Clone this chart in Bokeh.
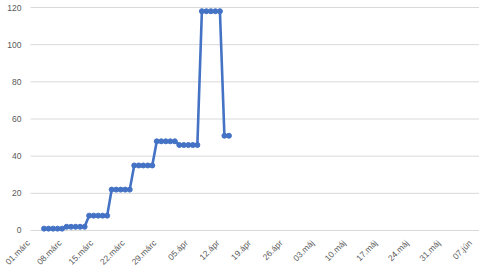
import math
import pandas as pd
from bokeh.plotting import figure
from bokeh.models import Range1d, ColumnDataSource
from bokeh.core.properties import value
from bokeh.embed import file_html
from bokeh.resources import INLINE

axis_start = "2020-03-01"
axis_end_day = 99.45

dates = [
    "2020-03-04", "2020-03-05", "2020-03-06", "2020-03-07", "2020-03-08",
    "2020-03-09", "2020-03-10", "2020-03-11", "2020-03-12", "2020-03-13",
    "2020-03-14", "2020-03-15", "2020-03-16", "2020-03-17", "2020-03-18",
    "2020-03-19", "2020-03-20", "2020-03-21", "2020-03-22", "2020-03-23",
    "2020-03-24", "2020-03-25", "2020-03-26", "2020-03-27", "2020-03-28",
    "2020-03-29", "2020-03-30", "2020-03-31", "2020-04-01", "2020-04-02",
    "2020-04-03", "2020-04-04", "2020-04-05", "2020-04-06", "2020-04-07",
    "2020-04-08", "2020-04-09", "2020-04-10", "2020-04-11", "2020-04-12",
    "2020-04-13", "2020-04-14",
]

values = [
    1, 1, 1, 1, 1,
    2, 2, 2, 2, 2,
    8, 8, 8, 8, 8,
    22, 22, 22, 22, 22,
    35, 35, 35, 35, 35,
    48, 48, 48, 48, 48,
    46, 46, 46, 46, 46,
    118, 118, 118, 118, 118,
    51, 51,
]

tick_dates = [
    "2020-03-01", "2020-03-08", "2020-03-15", "2020-03-22", "2020-03-29",
    "2020-04-05", "2020-04-12", "2020-04-19", "2020-04-26", "2020-05-03",
    "2020-05-10", "2020-05-17", "2020-05-24", "2020-05-31", "2020-06-07",
]
tick_labels = [
    "01.márc", "08.márc", "15.márc", "22.márc", "29.márc",
    "05.ápr", "12.ápr", "19.ápr", "26.ápr", "03.máj",
    "10.máj", "17.máj", "24.máj", "31.máj", "07.jún",
]
y_ticks = [0, 20, 40, 60, 80, 100, 120]
y_tick_labels = ["0", "20", "40", "60", "80", "100", "120"]

start = pd.Timestamp(axis_start)
x = [int((pd.Timestamp(d) - start).days) for d in dates]
tx = [int((pd.Timestamp(d) - start).days) for d in tick_dates]

src = ColumnDataSource(data=dict(x=x, y=values))
xtick_src = ColumnDataSource(data=dict(x=tx, y=[0] * len(tx), label=tick_labels))
ytick_src = ColumnDataSource(data=dict(x=[0] * len(y_ticks), y=y_ticks, label=y_tick_labels))
grid_src = ColumnDataSource(data=dict(x0=[0] * len(y_ticks), x1=[axis_end_day] * len(y_ticks),
                                      y=y_ticks))

label_color = "#595959"
font = "Liberation Sans"

# the frame covers the whole canvas; the margins around the data area hold the tick labels
p = figure(width=480, height=269, output_backend="svg", toolbar_location=None,
           x_range=Range1d(-6.652, 99.78), y_range=Range1d(-20.99, 123.77),
           x_axis_location=None, y_axis_location=None,
           min_border_left=0, min_border_right=0, min_border_top=0, min_border_bottom=0)
p.outline_line_color = None
p.background_fill_color = "white"
p.border_fill_color = "white"
p.grid.visible = False

# horizontal gridlines (the one at 0 is the category axis line)
p.segment(x0="x0", y0="y", x1="x1", y1="y", source=grid_src, line_color="#D9D9D9", line_width=1)

p.line("x", "y", source=src, line_color="#4472C4", line_width=2.6)
p.scatter("x", "y", source=src, size=5, fill_color="#4472C4", line_color="#4472C4")

p.text(x="x", y="y", text="label", source=xtick_src,
       angle=math.pi / 4, text_align="right", text_baseline="middle",
       x_offset=-2, y_offset=11,
       text_font=value(font), text_font_size="8.5px", text_color=label_color)

p.text(x="x", y="y", text="label", source=ytick_src,
       text_align="right", text_baseline="middle", x_offset=-9,
       text_font=value(font), text_font_size="8.5px", text_color=label_color)

open("out.html", "w").write(file_html(p, INLINE))
